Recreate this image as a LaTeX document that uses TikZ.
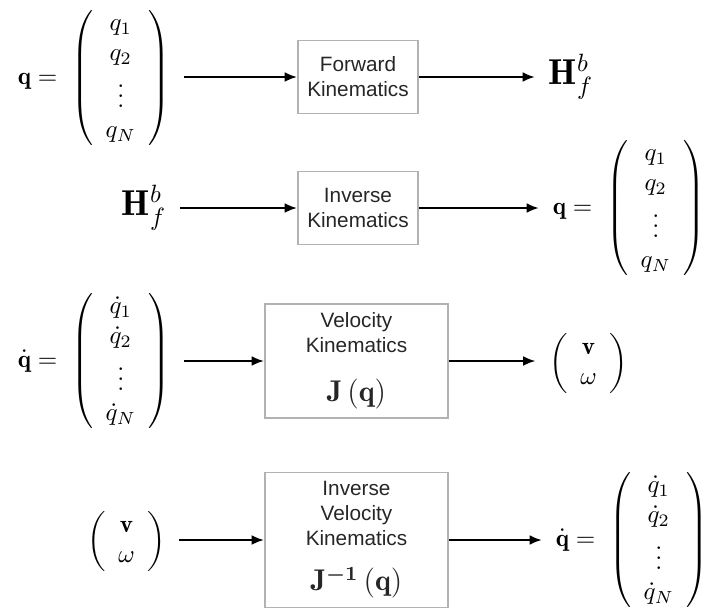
\documentclass[tikz,border=0pt]{standalone}
\usepackage{amsmath}
\usepackage{fontspec}
\newfontfamily\boxfont{Liberation Sans}
\usetikzlibrary{arrows.meta}
\begin{document}
\begin{tikzpicture}[x=0.4pt,y=-0.4pt,
  mth/.style={inner sep=0pt, outer xsep=5.5pt},
  blk/.style={draw=black!30, line width=0.7pt, inner sep=0pt, align=center,
    text=black!85, font=\boxfont\fontsize{8.3}{10}\selectfont},
  smallblk/.style={blk, minimum width=48pt, minimum height=29.2pt},
  bigblk/.style={blk, minimum width=73.2pt},
  arr/.style={-{Latex[length=5pt,width=4pt]}, line width=1.1pt}]
\useasboundingbox (0,0) rectangle (707,614);
% Row 1
\node[mth] (qA) at (94,78) {$\mathbf{q}=\;\left(\begin{array}{c} q_1\\ q_2\\ \vdots\\ q_N\end{array}\right)$};
\node[smallblk] (fk) at (358,77) {Forward\\Kinematics};
\node[mth] (HA) at (571,77) {\Large$\mathbf{H}_f^b$};
\draw[arr] (qA.east |- fk) -- (fk);
\draw[arr] (fk) -- (HA);
% Row 2
\node[mth] (HB) at (144,208) {\Large$\mathbf{H}_f^b$};
\node[smallblk] (ik) at (358,208) {Inverse\\Kinematics};
\node[mth] (qB) at (629,208) {$\mathbf{q}=\;\left(\begin{array}{c} q_1\\ q_2\\ \vdots\\ q_N\end{array}\right)$};
\draw[arr] (HB) -- (ik);
\draw[arr] (ik) -- (qB);
% Row 3
\node[mth] (qdA) at (94,361) {$\dot{\mathbf{q}}=\;\left(\begin{array}{c} \dot q_1\\ \dot q_2\\ \vdots\\ \dot q_N\end{array}\right)$};
\node[bigblk, minimum height=45.6pt] (vk) at (356.5,361) {Velocity\\Kinematics\\[9.5pt]{\large$\mathbf{J}\left(\mathbf{q}\right)$}};
\node[mth] (vwA) at (588.5,363) {$\left(\begin{array}{c} \mathbf{v}\\ \omega\end{array}\right)$};
\draw[arr] (qdA) -- (vk);
\draw[arr] (vk) -- (vwA.west |- vk);
% Row 4
\node[mth] (vwB) at (126.5,541) {$\left(\begin{array}{c} \mathbf{v}\\ \omega\end{array}\right)$};
\node[bigblk, minimum height=54pt] (ivk) at (356.5,540) {Inverse\\Velocity\\Kinematics\\[8pt]{\large$\mathbf{J}^{\boldsymbol{-1}}\left(\mathbf{q}\right)$}};
\node[mth] (qdB) at (632,540) {$\dot{\mathbf{q}}=\;\left(\begin{array}{c} \dot q_1\\ \dot q_2\\ \vdots\\ \dot q_N\end{array}\right)$};
\draw[arr] (vwB.east |- ivk) -- (ivk);
\draw[arr] (ivk) -- (qdB);
\end{tikzpicture}
\end{document}
